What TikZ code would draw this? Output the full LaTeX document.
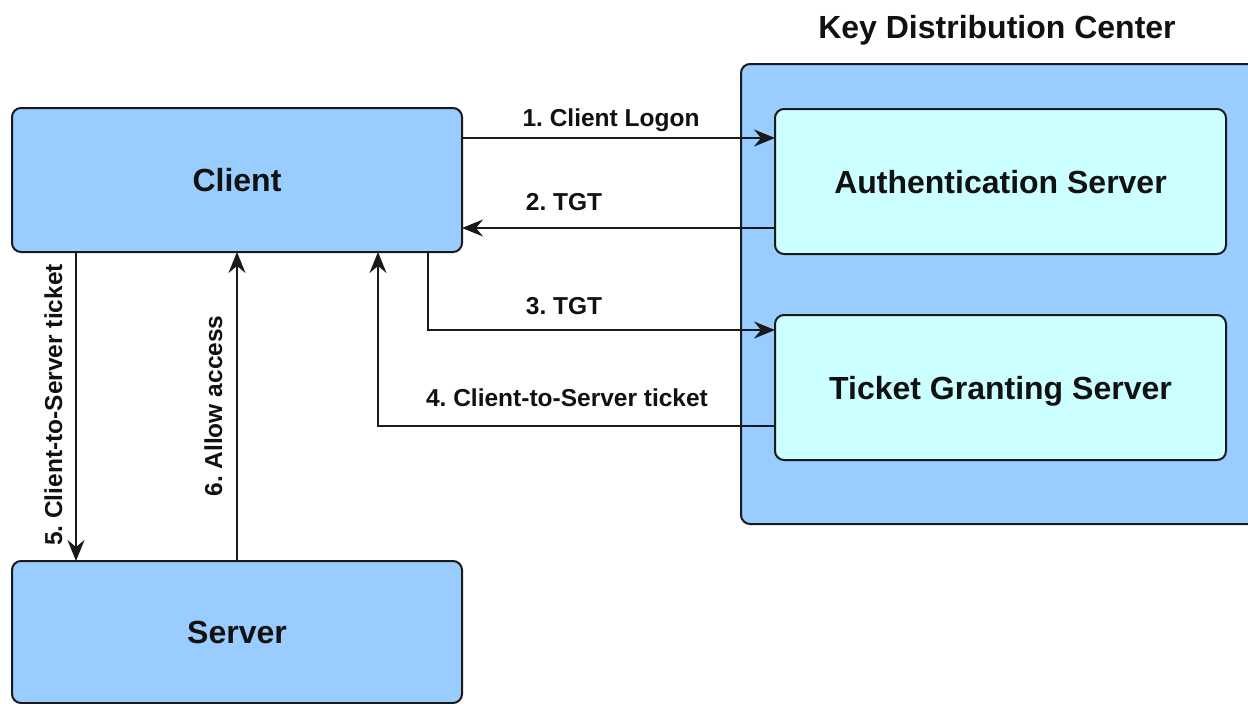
\documentclass[tikz,border=0pt]{standalone}
\usepackage{fontspec}
\setmainfont{Liberation Sans}
\usetikzlibrary{arrows.meta,calc}
\definecolor{clientblue}{HTML}{99CCFF}
\definecolor{servercyan}{HTML}{CCFFFF}
\definecolor{edgeline}{HTML}{1A1A1A}
\definecolor{inktext}{HTML}{111111}
\frenchspacing

\begin{document}
\begin{tikzpicture}[x=1pt,y=-1pt,
  box/.style={draw=edgeline, line width=2pt, rounded corners=9pt, inner sep=0pt,
    outer sep=0pt, anchor=north west, text=inktext,
    font=\fontsize{32}{38}\selectfont\bfseries, text height=23pt, text depth=0pt},
  bluebox/.style={box, fill=clientblue},
  cyanbox/.style={box, fill=servercyan},
  arr/.style={draw=edgeline, line width=1.6pt,
    -{Stealth[length=21pt,width=17pt,inset=7pt]}},
  lbl/.style={font=\fontsize{24.5}{29}\selectfont\bfseries, text=inktext,
    inner sep=0pt, anchor=base}
]
\path[use as bounding box, clip] (0,0) rectangle (1248,704);

% Key Distribution Center and its two servers
\node[bluebox, minimum width=519pt, minimum height=460pt] (kdc) at (741,64) {};
\node[anchor=base, inner sep=0pt, text=inktext,
  font=\fontsize{32}{38}\selectfont\bfseries] (kdctitle) at (997,38)
  {Key Distribution Center};
\node[cyanbox, minimum width=451pt, minimum height=145pt] (as) at (775,109)
  {Authentication Server};
\node[cyanbox, minimum width=451pt, minimum height=145pt] (tgs) at (775,315)
  {Ticket Granting Server};

% Client and service server
\node[bluebox, minimum width=450pt, minimum height=144pt] (client) at (12,108) {Client};
\node[bluebox, minimum width=450pt, minimum height=142pt] (server) at (12,561) {Server};

% Message flow
\coordinate (c1) at ([yshift=-30pt]client.north east);
\draw[arr] (c1) -- (c1 -| as.west);
\coordinate (c2) at ([yshift=26pt]as.south west);
\draw[arr] (c2) -- (c2 -| client.east);
\coordinate (c3) at ([yshift=-15pt]tgs.north west);
\draw[arr] ([xshift=-34pt]client.south east) |- (c3);
\coordinate (c4) at ([yshift=34pt]tgs.south west);
\draw[arr] (c4) -| ([xshift=-84pt]client.south east);
\draw[arr] ([xshift=64pt]client.south west) -- ([xshift=64pt]server.north west);
\draw[arr] ([xshift=225pt]server.north west) -- ([xshift=225pt]client.south west);

% Step labels
\node[lbl] (l1) at (611,126) {1. Client Logon};
\node[lbl] (l2) at (564,210) {2. TGT};
\node[lbl] (l3) at (564,314) {3. TGT};
\node[lbl] (l4) at (567,406) {4. Client-to-Server ticket};
\node[lbl, rotate=90] (l5) at (62,405) {5. Client-to-Server ticket};
\node[lbl, rotate=90] (l6) at (222,406) {6. Allow access};
\end{tikzpicture}
\end{document}
